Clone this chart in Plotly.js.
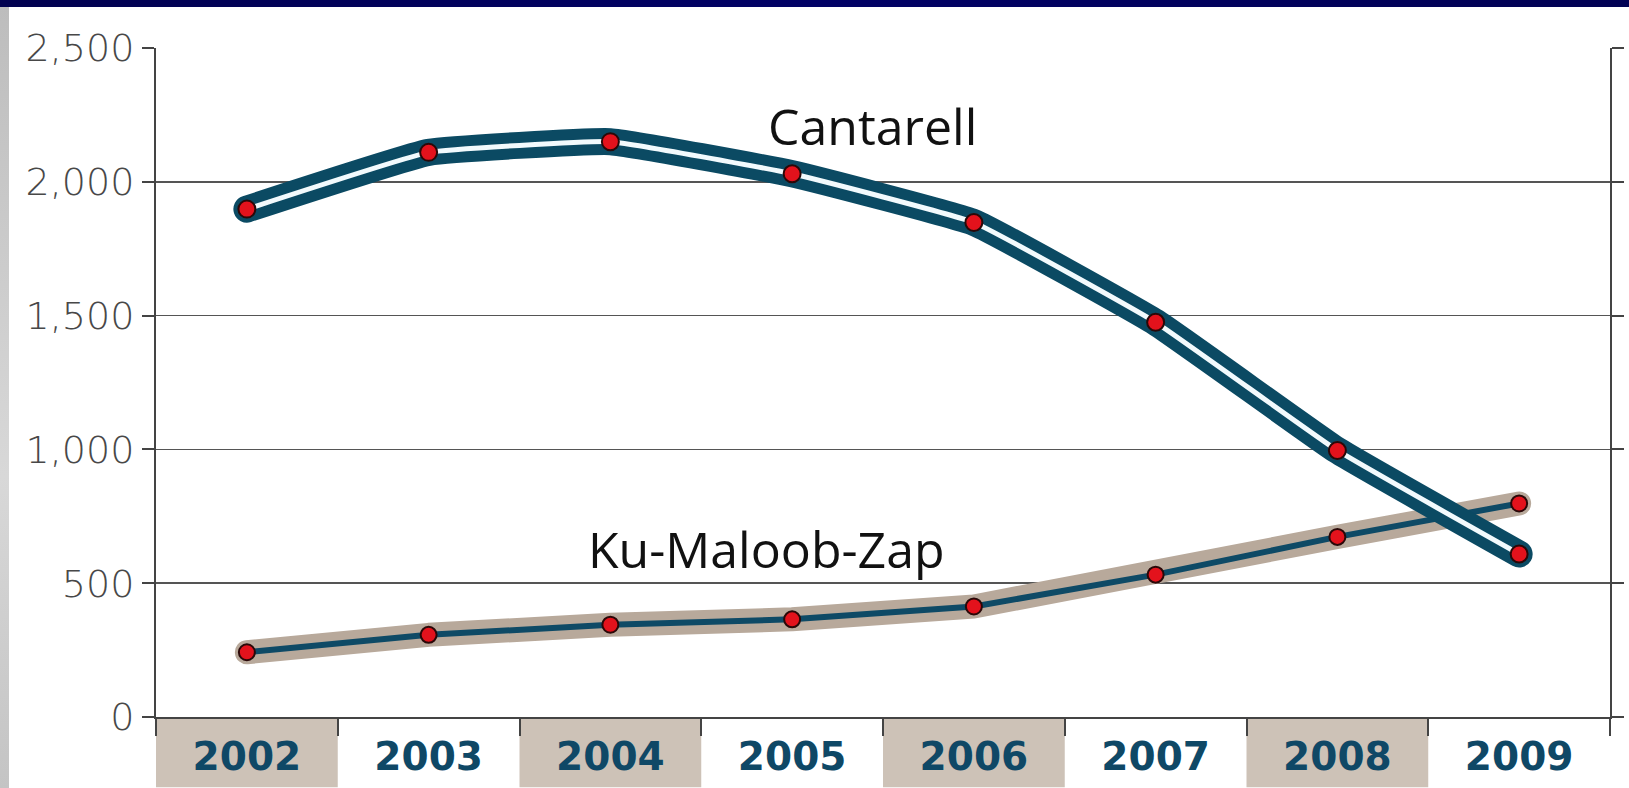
<!DOCTYPE html>
<html>
<head>
<meta charset="utf-8">
<script src="https://cdn.plot.ly/plotly-3.0.1.min.js"></script>
<style>
  html, body { margin: 0; padding: 0; background: #ffffff; overflow: hidden; }
  #wrap { position: relative; width: 1629px; height: 788px; background: #ffffff; }
  #chart { position: absolute; left: 0; top: 0; width: 1629px; height: 788px; }
  #topbar { position: absolute; left: 0; top: 0; width: 1629px; height: 7px;
            background: linear-gradient(to right, #020250, #020266 50%, #020254); z-index: 5; }
  #leftstrip { position: absolute; left: 0; top: 7px; width: 9px; height: 781px;
               background: linear-gradient(to bottom, #bdbdbd, #d8d8d8 60%, #c4c4c4); z-index: 5; }
  .js-line { stroke-linejoin: round !important; stroke-linecap: round !important; }
</style>
</head>
<body>
<div id="wrap">
  <div id="chart"></div>
  <div id="topbar"></div>
  <div id="leftstrip"></div>
</div>
<script>
// ---- data ----
const years = ['2002', '2003', '2004', '2005', '2006', '2007', '2008', '2009'];
const cantarell = [1898, 2110, 2150, 2030, 1848, 1475, 996, 609];
const kuMaloobZap = [242, 307, 345, 365, 413, 532, 673, 798];
const yTickVals = [0, 500, 1000, 1500, 2000, 2500];
const yTickText = ['0', '500', '1,000', '1,500', '2,000', '2,500'];
const seriesNames = ['Cantarell', 'Ku-Maloob-Zap'];

// ---- styles ----
const navy = '#0b4a63';
const tan = '#b8a99b';
const boxTan = '#cdc2b7';
const red = '#e3121c';

const markerStyle = (size) => ({ size: size, color: red, line: { color: '#2a0808', width: 2 } });

const traces = [
  { x: years, y: kuMaloobZap, type: 'scatter', mode: 'lines', name: seriesNames[1] + ' halo',
    line: { color: tan, width: 24 }, hoverinfo: 'skip', showlegend: false },
  { x: years, y: kuMaloobZap, type: 'scatter', mode: 'lines+markers', name: seriesNames[1],
    line: { color: '#0e4a66', width: 6 }, marker: markerStyle(16), showlegend: false },
  { x: years, y: cantarell, type: 'scatter', mode: 'lines', name: seriesNames[0] + ' outer',
    line: { color: navy, width: 27, shape: 'spline', smoothing: 0.3 }, hoverinfo: 'skip', showlegend: false },
  { x: years, y: cantarell, type: 'scatter', mode: 'lines+markers', name: seriesNames[0],
    line: { color: '#f2fafd', width: 5, shape: 'spline', smoothing: 0.3 }, marker: markerStyle(17), showlegend: false }
];

// alternating shaded category boxes below the axis
const shapes = years.map((yr, i) => i % 2 === 0 ? {
  type: 'rect', xref: 'x', yref: 'paper', layer: 'below',
  x0: i - 0.5, x1: i + 0.5, y0: -0.105, y1: -0.003,
  fillcolor: boxTan, line: { width: 0 }
} : null).filter(Boolean);

const layout = {
  width: 1629, height: 788,
  margin: { l: 156, r: 19, t: 48, b: 71 },
  paper_bgcolor: 'rgba(0,0,0,0)',
  plot_bgcolor: '#ffffff',
  showlegend: false,
  xaxis: {
    type: 'category', range: [-0.5, 7.5],
    tickson: 'boundaries', ticks: 'outside', ticklen: 17, tickwidth: 2, tickcolor: '#444',
    showline: true, linecolor: '#444', linewidth: 2,
    showgrid: false, zeroline: false,
    tickfont: { family: 'DejaVu Sans', size: 39, color: '#0f4866', weight: 'bold' },
    ticklabelstandoff: 4, fixedrange: true
  },
  yaxis: {
    range: [0, 2500], tickvals: yTickVals, ticktext: yTickText,
    ticks: 'outside', ticklen: 12, tickwidth: 2, tickcolor: '#444',
    showline: true, linecolor: '#444', linewidth: 2, mirror: 'ticks',
    showgrid: true, gridcolor: '#555', gridwidth: 1.5, zeroline: false,
    tickfont: { family: 'DejaVu Sans', size: 38, color: '#484848', weight: 200 },
    ticklabelstandoff: 0, fixedrange: true
  },
  shapes: shapes,
  annotations: [
    { text: seriesNames[0], xref: 'x', yref: 'y', x: 3.44, y: 2210, showarrow: false,
      font: { family: 'Open Sans', size: 50, color: '#111111' } },
    { text: seriesNames[1], xref: 'x', yref: 'y', x: 2.86, y: 628, showarrow: false,
      font: { family: 'Open Sans', size: 50, color: '#111111' } }
  ]
};

Plotly.newPlot('chart', traces, layout, { displayModeBar: false, staticPlot: true });
</script>
</body>
</html>
